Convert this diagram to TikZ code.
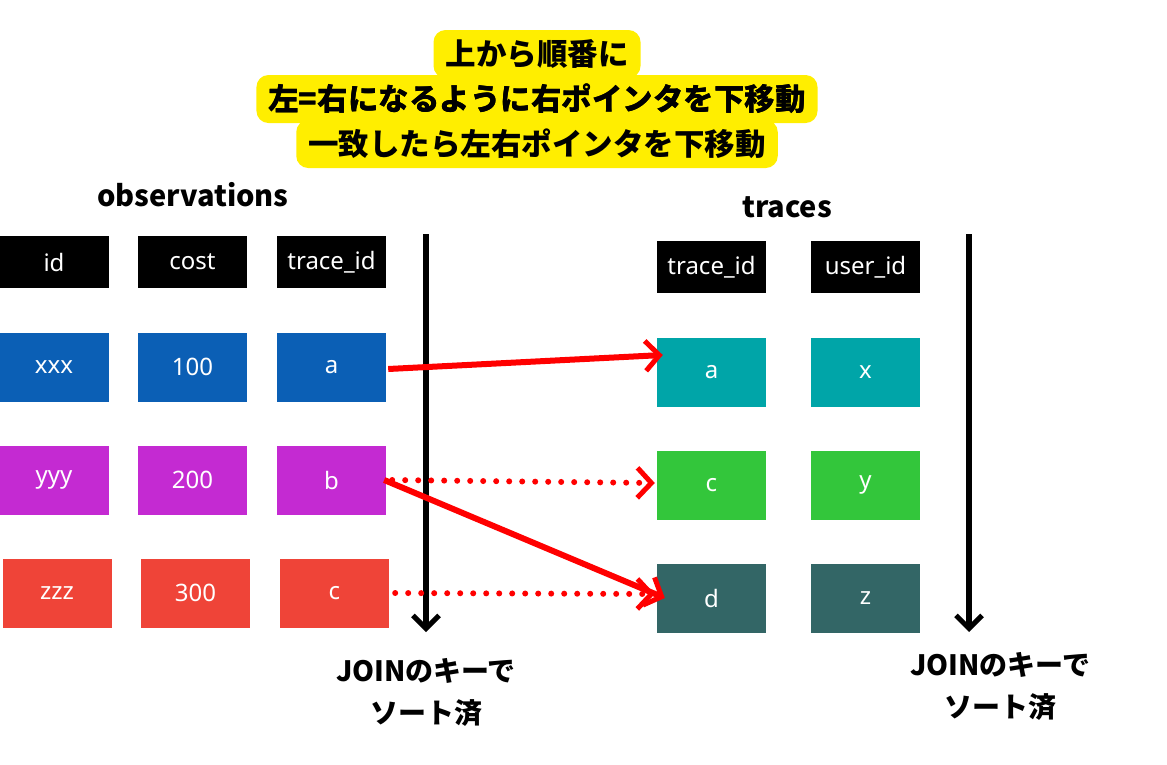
\documentclass[tikz,border=0pt]{standalone}
\usepackage{fontspec}
\setmainfont{Noto Sans}
\newfontfamily\jp{Noto Sans CJK JP}
\usetikzlibrary{arrows.meta}
\definecolor{cblue}{HTML}{0B5FB5}
\definecolor{cmag}{HTML}{C42AD2}
\definecolor{cred}{HTML}{EF4438}
\definecolor{cteal}{HTML}{00A5A8}
\definecolor{cgreen}{HTML}{33C63B}
\definecolor{cdark}{HTML}{336666}
\definecolor{cyel}{HTML}{FFEE00}
\begin{document}
\begin{tikzpicture}[x=1pt,y=-1pt,
  box/.style={inner sep=0,minimum width=109pt,text=white,font=\fontsize{24}{28}\selectfont},
  hd/.style={box,fill=black,minimum height=52pt},
  cell/.style={box,minimum height=69pt},
  jt/.style={font=\jp\bfseries\fontsize{30.5}{38}\selectfont,align=center},
  vk/.style={line width=5.5pt,-{Straight Barb[length=13pt,width=26pt,line width=5pt]}},
  rs/.style={red,line width=6pt,-{Straight Barb[length=14pt,width=30pt,line width=5pt]}},
  rd/.style={red,line width=6pt,dash pattern=on 0pt off 13pt,line cap=round,-{Straight Barb[length=14pt,width=30pt,line width=5pt]}}]
\useasboundingbox (0,0) rectangle (1167,764);
% title
\node[jt,fill=cyel,rounded corners=12pt,minimum height=48pt,inner xsep=12pt] (t2) at (537,99) {左=右になるように右ポインタを下移動};
\node[jt,fill=cyel,rounded corners=12pt,minimum height=48pt,inner xsep=12pt] (t3) at (537,144) {一致したら左右ポインタを下移動};
\node[jt,fill=cyel,rounded corners=12pt,minimum height=48pt,inner xsep=12pt] (t1) at (537,54) {上から順番に};
\node[jt] at (t2) {左=右になるように右ポインタを下移動};
\node[jt,font=\jp\bfseries\fontsize{29}{32}\selectfont] (obs) at (193,195) {observations};
\node[jt,font=\jp\bfseries\fontsize{29}{32}\selectfont] (trc) at (787,207) {traces};
% left table
\node[hd] (h1) at (54,262) {id};
\node[hd] (h2) at (192.5,262) {cost};
\node[hd] (h3) at (331.5,262) {trace\_id};
\node[cell,fill=cblue] (l11) at (54,367) {xxx};
\node[cell,fill=cblue] (l12) at (192.5,367) {100};
\node[cell,fill=cblue] (l13) at (331.5,367) {a};
\node[cell,fill=cmag] (l21) at (54,480) {yyy};
\node[cell,fill=cmag] (l22) at (192.5,480) {200};
\node[cell,fill=cmag] (l23) at (331.5,480) {b};
\node[cell,fill=cred] (l31) at (57,593) {zzz};
\node[cell,fill=cred] (l32) at (195.5,593) {300};
\node[cell,fill=cred] (l33) at (334.5,593) {c};
% right table
\node[hd] (r0a) at (711.5,267) {trace\_id};
\node[hd] (r0b) at (865.5,267) {user\_id};
\node[cell,fill=cteal] (r1a) at (711.5,372) {a};
\node[cell,fill=cteal] (r1b) at (865.5,372) {x};
\node[cell,fill=cgreen] (r2a) at (711.5,485) {c};
\node[cell,fill=cgreen] (r2b) at (865.5,485) {y};
\node[cell,fill=cdark] (r3a) at (711.5,598) {d};
\node[cell,fill=cdark] (r3b) at (865.5,598) {z};
% vertical arrows
\coordinate (v1s) at (426,234); \coordinate (v1e) at (426,632);
\coordinate (v2s) at (969,234); \coordinate (v2e) at (969,632);
\draw[vk] (v1s) -- (v1e);
\draw[vk] (v2s) -- (v2e);
% red arrows
\draw[rs] ([xshift=2pt,yshift=-2pt]l13.east) -- ([xshift=6pt,yshift=17pt]r1a.west);
\draw[rs] ([xshift=-2pt]l23.east) -- ([xshift=8pt]r3a.west);
\draw[rd] ([xshift=6pt]l23.east) -- ([xshift=-2pt,yshift=2pt]r2a.west);
\draw[rd] ([xshift=6pt]l33.east) -- ([xshift=-2pt,yshift=4pt]r3a.west);
% bottom notes
\node[jt,font=\jp\bfseries\fontsize{28}{42}\selectfont] (n1) at (426,692) {JOINのキーで\\ソート済};
\node[jt,font=\jp\bfseries\fontsize{28}{42}\selectfont] (n2) at (1000,686) {JOINのキーで\\ソート済};
\end{tikzpicture}
\end{document}
